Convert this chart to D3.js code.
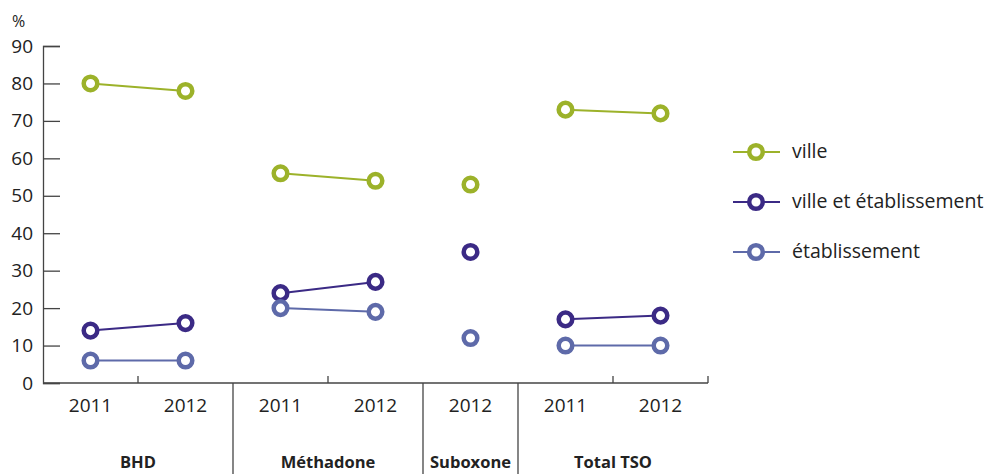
<!DOCTYPE html>
<html>
<head>
<meta charset="utf-8">
<script src="https://cdn.jsdelivr.net/npm/d3@7"></script>
<style>
  body { margin: 0; background: #fff; }
  text { font-family: "Open Sans", "Noto Sans", sans-serif; fill: #222; }
</style>
</head>
<body>
<div id="chart"></div>
<script>
var width = 987;
var height = 474;
var margin = { top: 46, left: 43, bottom: 91 };
var plotRight = 708;

// one slot per year inside each drug group
var slotGroup = ["BHD", "BHD", "Méthadone", "Méthadone", "Suboxone", "Total TSO", "Total TSO"];
var slotYear = ["2011", "2012", "2011", "2012", "2012", "2011", "2012"];
var groups = ["BHD", "Méthadone", "Suboxone", "Total TSO"];

var seriesNames = ["ville", "ville et établissement", "établissement"];
var seriesColors = ["#9cb22a", "#3b2a85", "#5e6aa9"];
var ville = [80, 78, 56, 54, 53, 73, 72];
var villeEtab = [14, 16, 24, 27, 35, 17, 18];
var etab = [6, 6, 20, 19, 12, 10, 10];
var seriesValues = [ville, villeEtab, etab];

var yTicks = [0, 10, 20, 30, 40, 50, 60, 70, 80, 90];

var svg = d3.select("#chart").append("svg")
    .attr("width", width)
    .attr("height", height);

var slots = d3.range(slotYear.length);

var x = d3.scaleBand()
    .domain(slots)
    .range([margin.left, plotRight]);

var y = d3.scaleLinear()
    .domain([0, 90])
    .range([height - margin.bottom, margin.top]);

var axisY = height - margin.bottom;

// y axis
var yAxis = d3.axisRight(y)
    .tickValues(yTicks)
    .tickSize(17)
    .tickFormat(d3.format("d"));

var gy = svg.append("g")
    .attr("transform", "translate(" + margin.left + ",0)")
    .call(yAxis);
gy.select(".domain").attr("stroke", "#444").attr("stroke-width", 1.3);
gy.selectAll(".tick line").attr("stroke", "#444").attr("stroke-width", 1.3);
gy.selectAll(".tick text")
    .attr("x", -10)
    .attr("text-anchor", "end")
    .style("font-size", "19px");

svg.append("text")
    .attr("x", 12)
    .attr("y", 27)
    .style("font-size", "16px")
    .text("%");

// x axis baseline
svg.append("line")
    .attr("x1", margin.left).attr("x2", plotRight)
    .attr("y1", axisY).attr("y2", axisY)
    .attr("stroke", "#444").attr("stroke-width", 1.3);

// boundaries: group separators go down, year separators tick up
slots.concat([slots.length]).forEach(function (i) {
    if (i === 0) return;
    var bx = i < slots.length ? x(i) : x(slots.length - 1) + x.bandwidth();
    var isGroupEdge = i < slots.length && slotGroup[i] !== slotGroup[i - 1];
    svg.append("line")
        .attr("x1", bx).attr("x2", bx)
        .attr("y1", axisY)
        .attr("y2", isGroupEdge ? height : axisY - 7)
        .attr("stroke", "#444").attr("stroke-width", 1.3);
});

// year labels
svg.selectAll(".year")
    .data(slots)
    .enter().append("text")
    .attr("x", function (i) { return x(i) + x.bandwidth() / 2; })
    .attr("y", 412)
    .attr("text-anchor", "middle")
    .style("font-size", "19px")
    .text(function (i) { return slotYear[i]; });

// group labels
svg.selectAll(".group")
    .data(groups)
    .enter().append("text")
    .attr("x", function (g) {
        var idx = slots.filter(function (i) { return slotGroup[i] === g; });
        return (x(idx[0]) + x(idx[idx.length - 1]) + x.bandwidth()) / 2;
    })
    .attr("y", 468)
    .attr("text-anchor", "middle")
    .style("font-size", "16.5px")
    .style("font-weight", "bold")
    .text(function (g) { return g; });

var cx = function (i) { return x(i) + x.bandwidth() / 2; };

// lines within each group, then markers
seriesValues.forEach(function (vals, s) {
    groups.forEach(function (g) {
        var idx = slots.filter(function (i) { return slotGroup[i] === g; });
        if (idx.length < 2) return;
        svg.append("path")
            .datum(idx)
            .attr("fill", "none")
            .attr("stroke", seriesColors[s])
            .attr("stroke-width", 2)
            .attr("d", d3.line()
                .x(function (i) { return cx(i); })
                .y(function (i) { return y(vals[i]); }));
    });
    svg.selectAll(".m" + s)
        .data(slots)
        .enter().append("circle")
        .attr("cx", cx)
        .attr("cy", function (i) { return y(vals[i]); })
        .attr("r", 6.8)
        .attr("fill", "#fff")
        .attr("stroke", seriesColors[s])
        .attr("stroke-width", 4.5);
});

// legend
var legend = svg.append("g");
seriesNames.forEach(function (name, s) {
    var ly = 152 + s * 50;
    legend.append("line")
        .attr("x1", 733).attr("x2", 780)
        .attr("y1", ly).attr("y2", ly)
        .attr("stroke", seriesColors[s]).attr("stroke-width", 2);
    legend.append("circle")
        .attr("cx", 756).attr("cy", ly)
        .attr("r", 6.8)
        .attr("fill", "#fff")
        .attr("stroke", seriesColors[s])
        .attr("stroke-width", 4.5);
    legend.append("text")
        .attr("x", 792)
        .attr("y", ly + 6)
        .style("font-size", "19.5px")
        .text(name);
});
</script>
</body>
</html>
